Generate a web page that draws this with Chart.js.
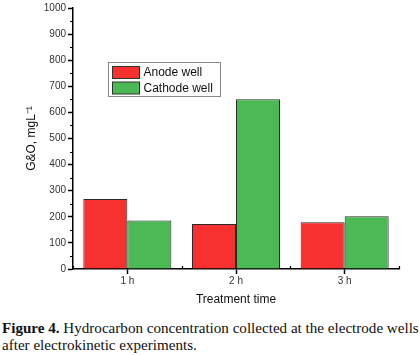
<!DOCTYPE html>
<meta charset="utf-8">
<html>
  <head>
    <script src="https://cdn.jsdelivr.net/npm/chart.js"></script>
    <style>
      body { margin: 0; background: #fff; width: 420px; height: 355px; overflow: hidden; }
      #wrap { position: relative; width: 420px; height: 320px; }
      #caption { font-family: "Liberation Serif", "Times New Roman", serif; font-size: 15.1px; line-height: 17px; color: #111; padding-left: 2px; white-space: nowrap; }
    </style>
  </head>
  <body>
    <div id="wrap"><canvas id="chart"></canvas></div>
    <div id="caption"><b>Figure 4.</b> Hydrocarbon concentration collected at the electrode wells<br>after electrokinetic experiments.</div>
  </body>

  <script>
    const categories = ['1 h', '2 h', '3 h'];
    const anodeWell = [268, 172, 179];
    const cathodeWell = [186, 650, 202];
    const minorTicks = [50, 150, 250, 350, 450, 550, 650, 750, 850, 950];

    // legend box inside the plot + minor ticks on y, boundary ticks on x
    const extras = {
      id: 'extras',
      afterDraw(chart) {
        const ctx = chart.ctx;
        const y = chart.scales.y;
        const x = chart.scales.x;
        ctx.save();
        ctx.strokeStyle = '#000';
        ctx.lineWidth = 1.2;
        ctx.beginPath();
        for (let v of minorTicks) {
          const py = Math.round(y.getPixelForValue(v)) + 0.5;
          ctx.moveTo(x.left - 3, py);
          ctx.lineTo(x.left, py);
        }
        for (let i = 0; i <= categories.length; i++) {
          const px = Math.round(x.getPixelForValue(i - 0.5)) + 0.5;
          ctx.moveTo(px, y.bottom);
          ctx.lineTo(px, y.bottom - 3);
        }
        ctx.stroke();

        // legend
        const lx = 108.5, ly = 62.5;
        ctx.fillStyle = '#fff';
        ctx.fillRect(lx, ly, 112, 34);
        ctx.strokeStyle = '#8a8a8a';
        ctx.lineWidth = 1;
        ctx.strokeRect(lx, ly, 112, 34);
        ctx.font = '12px Arial, "Liberation Sans"';
        ctx.textBaseline = 'middle';
        chart.data.datasets.forEach(function(ds, i) {
          const ry = ly + 4 + i * 15.5;
          ctx.fillStyle = ds.backgroundColor;
          ctx.fillRect(lx + 4, ry, 27, 12);
          ctx.strokeStyle = '#333';
          ctx.strokeRect(lx + 4, ry, 27, 12);
          ctx.fillStyle = '#111';
          ctx.fillText(ds.label, lx + 35, ry + 6.5);
        });
        ctx.restore();
      }
    };

    const data = {
      labels: categories,
      datasets: [
        {
          label: 'Anode well',
          data: anodeWell,
          backgroundColor: 'rgb(247, 48, 48)',
          borderColor: '#2a2a2a',
          borderWidth: 1,
          categoryPercentage: 0.81,
          barPercentage: 1.0
        },
        {
          label: 'Cathode well',
          data: cathodeWell,
          backgroundColor: 'rgb(76, 186, 84)',
          borderColor: '#2a2a2a',
          borderWidth: 1,
          categoryPercentage: 0.81,
          barPercentage: 1.0
        }
      ]
    };

    const config = {
      type: 'bar',
      data: data,
      plugins: [extras],
      options: {
        responsive: true,
        maintainAspectRatio: false,
        animation: false,
        layout: { padding: { top: -2, right: 21, left: 0, bottom: 0 } },
        plugins: {
          legend: { display: false },
          tooltip: { enabled: false }
        },
        scales: {
          x: {
            grid: { display: true, drawOnChartArea: false, offset: false, tickLength: 5, color: '#000', tickWidth: 1.5 },
            border: { display: true, color: '#000', width: 1.5 },
            ticks: { font: { family: 'Arial', size: 10 }, color: '#333', padding: 1 },
            title: { display: true, text: 'Treatment time', font: { family: 'Arial', size: 12 }, color: '#111', padding: { top: 4, bottom: 13 } },
            afterFit: function(s) { s.height = 51; }
          },
          y: {
            min: 0,
            max: 1000,
            grid: { display: true, drawOnChartArea: false, tickLength: 5, color: '#000', tickWidth: 1.5 },
            border: { display: true, color: '#000', width: 1.5 },
            ticks: { stepSize: 100, font: { family: 'Arial', size: 10 }, color: '#333', padding: 2,
              callback: function(v) { return String(v); } },
            title: { display: true, text: 'G&O, mgL\u207B\u00B9', font: { family: 'Arial', size: 12 }, color: '#111', padding: { top: 24, bottom: 0 } },
            afterFit: function(s) { s.width = 73; }
          }
        }
      }
    };

    new Chart(document.getElementById('chart'), config);
  </script>
</html>
